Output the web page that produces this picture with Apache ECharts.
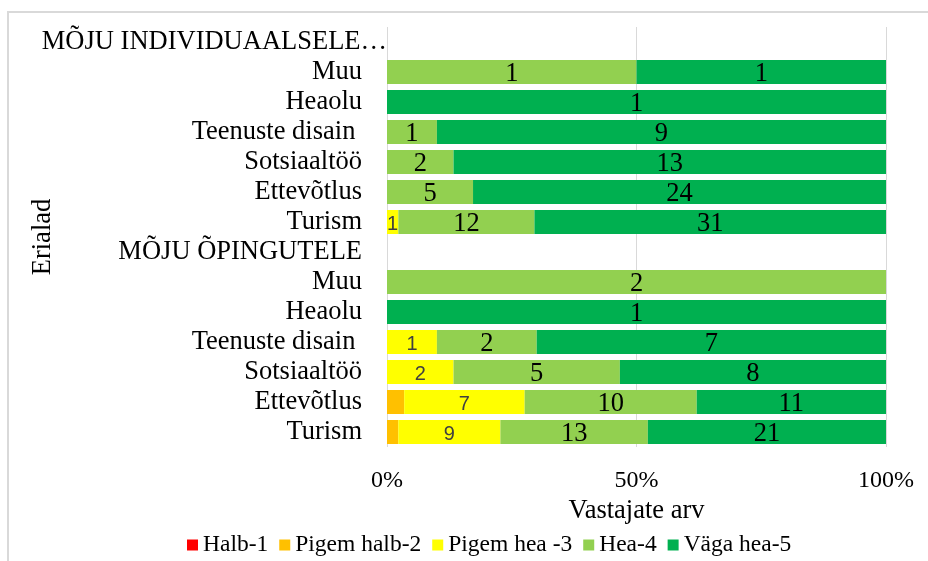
<!DOCTYPE html>
<html>
<head>
<meta charset="utf-8">
<script src="https://cdn.jsdelivr.net/npm/echarts@6/dist/echarts.min.js"></script>
<style>
    html, body { margin: 0; padding: 0; background: #fff; }
    #frame {
        position: absolute; left: 7px; top: 11px; width: 960px; height: 600px;
        border-left: 2px solid #d9d9d9; border-top: 2px solid #d9d9d9;
    }
    #echart { position: absolute; left: 0; top: 0; width: 928px; height: 561px; }
</style>
</head>
<body>
<div id="frame"></div>
<div id="echart"></div>
<script>
    var categories = ['MÕJU INDIVIDUAALSELE…', 'Muu', 'Heaolu', 'Teenuste disain ', 'Sotsiaaltöö', 'Ettevõtlus', 'Turism',
        'MÕJU ÕPINGUTELE', 'Muu', 'Heaolu', 'Teenuste disain ', 'Sotsiaaltöö', 'Ettevõtlus', 'Turism'];
    var seriesNames = ['Halb-1', 'Pigem halb-2', 'Pigem hea -3', 'Hea-4', 'Väga hea-5'];
    var colors = ['#FF0000', '#FFC000', '#FFFF00', '#92D050', '#00B050'];

    // vastajate arv (null = vahepealkiri)
    var halb1      = [null, 0, 0, 0, 0, 0, 0,  null, 0, 0, 0, 0, 0, 0];
    var pigemHalb2 = [null, 0, 0, 0, 0, 0, 0,  null, 0, 0, 0, 0, 1, 1];
    var pigemHea3  = [null, 0, 0, 0, 0, 0, 1,  null, 0, 0, 1, 2, 7, 9];
    var hea4       = [null, 1, 0, 1, 2, 5, 12, null, 2, 0, 2, 5, 10, 13];
    var vagaHea5   = [null, 1, 1, 9, 13, 24, 31, null, 0, 1, 7, 8, 11, 21];

    var counts = [halb1, pigemHalb2, pigemHea3, hea4, vagaHea5];
    var serif = "'Liberation Serif', 'Times New Roman', serif";
    var sans = "'Liberation Sans', Arial, sans-serif";

    var totals = categories.map(function (c, i) {
        var t = 0;
        counts.forEach(function (arr) { t += arr[i] || 0; });
        return t;
    });

    function share(arr) {
        return arr.map(function (v, i) {
            return totals[i] ? v / totals[i] * 100 : null;
        });
    }

    var series = counts.map(function (arr, k) {
        var isYellow = k === 2;
        return {
            name: seriesNames[k],
            type: 'bar',
            stack: 'kokku',
            barCategoryGap: '20%',
            data: share(arr),
            itemStyle: { color: colors[k] },
            label: {
                show: k >= 2,
                position: 'inside',
                offset: [0, 2],
                fontFamily: isYellow ? sans : serif,
                fontSize: isYellow ? 20 : 26.5,
                color: isYellow ? '#404040' : '#000',
                formatter: function (p) {
                    var n = arr[p.dataIndex];
                    return n ? String(n) : '';
                }
            }
        };
    });

    var app = echarts.init(document.getElementById('echart'));
    var option = {
        animation: false,
        color: colors,
        grid: { left: 387, right: 42, top: 27, bottom: 114, outerBoundsMode: 'none' },
        legend: {
            data: seriesNames,
            left: 182,
            top: 528,
            icon: 'rect',
            itemWidth: 11,
            itemHeight: 11,
            itemGap: 11,
            textStyle: { fontFamily: serif, fontSize: 23.5, color: '#000' }
        },
        xAxis: {
            type: 'value',
            min: 0,
            max: 100,
            interval: 50,
            name: 'Vastajate arv',
            nameLocation: 'middle',
            nameGap: 48,
            nameTextStyle: { fontFamily: serif, fontSize: 26.5, color: '#000' },
            axisLine: { show: false },
            axisTick: { show: false },
            axisLabel: { formatter: '{value}%', margin: 22, fontFamily: serif, fontSize: 24, color: '#000' },
            splitLine: { lineStyle: { color: '#d9d9d9', width: 1 } }
        },
        yAxis: {
            type: 'category',
            inverse: true,
            data: categories,
            name: 'Erialad',
            nameLocation: 'middle',
            nameGap: 330,
            nameMoveOverlap: false,
            nameTextStyle: { fontFamily: serif, fontSize: 26.5, color: '#000' },
            axisLine: { show: false },
            axisTick: { show: false },
            axisLabel: {
                margin: 0,
                interval: 0,
                fontFamily: serif,
                fontSize: 26.5,
                color: '#000',
                formatter: function (v, i) {
                    return i === 0 ? '{h|' + v + '}' : '{c|' + v + '}';
                },
                rich: {
                    h: { fontFamily: serif, fontSize: 26.5, color: '#000', padding: [0, 0, 0, 0] },
                    c: { fontFamily: serif, fontSize: 26.5, color: '#000', padding: [0, 25, 0, 0] }
                }
            }
        },
        series: series
    };
    app.setOption(option);
</script>
</body>
</html>
